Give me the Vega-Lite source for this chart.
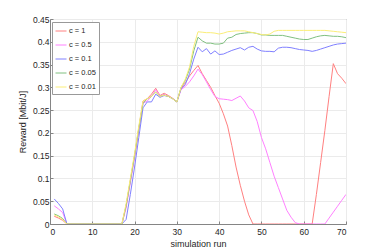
{
"$schema": "https://vega.github.io/schema/vega-lite/v6.json",
"width": 296, "height": 205,
"autosize": {"type": "none"},
"padding": {"left": 50, "top": 19, "right": 37, "bottom": 28},
"background": "white",
"config": {
  "font": "Liberation Sans",
  "view": {"stroke": "#858585", "strokeWidth": 1},
  "axis": {"labelFontSize": 8.5, "titleFontSize": 9, "titleFontWeight": "normal", "labelColor": "#262626", "titleColor": "#262626", "domainColor": "#858585", "tickColor": "#858585", "gridColor": "#ebebeb", "tickSize": -3, "labelPadding": 4}
},
"data": {"values": [
{"run":1,"c":"c = 1","r":0.017},{"run":2,"c":"c = 1","r":0.013},{"run":3,"c":"c = 1","r":0.008},{"run":4,"c":"c = 1","r":0},{"run":5,"c":"c = 1","r":0},{"run":6,"c":"c = 1","r":0},{"run":7,"c":"c = 1","r":0},{"run":8,"c":"c = 1","r":0},{"run":9,"c":"c = 1","r":0},{"run":10,"c":"c = 1","r":0},{"run":11,"c":"c = 1","r":0},{"run":12,"c":"c = 1","r":0},{"run":13,"c":"c = 1","r":0},{"run":14,"c":"c = 1","r":0},{"run":15,"c":"c = 1","r":0},{"run":16,"c":"c = 1","r":0},{"run":17,"c":"c = 1","r":0},
{"run":18,"c":"c = 1","r":0.04},{"run":19,"c":"c = 1","r":0.095},{"run":20,"c":"c = 1","r":0.15},{"run":21,"c":"c = 1","r":0.21},{"run":22,"c":"c = 1","r":0.27},{"run":23,"c":"c = 1","r":0.275},{"run":24,"c":"c = 1","r":0.285},{"run":25,"c":"c = 1","r":0.298},{"run":26,"c":"c = 1","r":0.282},{"run":27,"c":"c = 1","r":0.287},{"run":28,"c":"c = 1","r":0.282},{"run":29,"c":"c = 1","r":0.276},{"run":30,"c":"c = 1","r":0.268},{"run":31,"c":"c = 1","r":0.298},{"run":32,"c":"c = 1","r":0.31},{"run":33,"c":"c = 1","r":0.325},{"run":34,"c":"c = 1","r":0.337},{"run":35,"c":"c = 1","r":0.348},
{"run":36,"c":"c = 1","r":0.33},{"run":37,"c":"c = 1","r":0.315},{"run":38,"c":"c = 1","r":0.3},{"run":39,"c":"c = 1","r":0.282},{"run":40,"c":"c = 1","r":0.265},{"run":41,"c":"c = 1","r":0.242},{"run":42,"c":"c = 1","r":0.215},{"run":43,"c":"c = 1","r":0.172},{"run":44,"c":"c = 1","r":0.125},{"run":45,"c":"c = 1","r":0.085},{"run":46,"c":"c = 1","r":0.05},{"run":47,"c":"c = 1","r":0.02},
{"run":48,"c":"c = 1","r":0},{"run":49,"c":"c = 1","r":0},{"run":50,"c":"c = 1","r":0},{"run":51,"c":"c = 1","r":0},{"run":52,"c":"c = 1","r":0},{"run":53,"c":"c = 1","r":0},{"run":54,"c":"c = 1","r":0},{"run":55,"c":"c = 1","r":0},{"run":56,"c":"c = 1","r":0},{"run":57,"c":"c = 1","r":0},{"run":58,"c":"c = 1","r":0},{"run":59,"c":"c = 1","r":0},{"run":60,"c":"c = 1","r":0},{"run":61,"c":"c = 1","r":0},{"run":62,"c":"c = 1","r":0},
{"run":63,"c":"c = 1","r":0.065},{"run":64,"c":"c = 1","r":0.135},{"run":65,"c":"c = 1","r":0.205},{"run":66,"c":"c = 1","r":0.28},{"run":67,"c":"c = 1","r":0.352},{"run":68,"c":"c = 1","r":0.33},{"run":69,"c":"c = 1","r":0.32},{"run":70,"c":"c = 1","r":0.308},

{"run":1,"c":"c = 0.5","r":0.04},{"run":2,"c":"c = 0.5","r":0.033},{"run":3,"c":"c = 0.5","r":0.025},{"run":4,"c":"c = 0.5","r":0},{"run":5,"c":"c = 0.5","r":0},{"run":6,"c":"c = 0.5","r":0},{"run":7,"c":"c = 0.5","r":0},{"run":8,"c":"c = 0.5","r":0},{"run":9,"c":"c = 0.5","r":0},{"run":10,"c":"c = 0.5","r":0},{"run":11,"c":"c = 0.5","r":0},{"run":12,"c":"c = 0.5","r":0},{"run":13,"c":"c = 0.5","r":0},{"run":14,"c":"c = 0.5","r":0},{"run":15,"c":"c = 0.5","r":0},{"run":16,"c":"c = 0.5","r":0},{"run":17,"c":"c = 0.5","r":0},
{"run":18,"c":"c = 0.5","r":0.035},{"run":19,"c":"c = 0.5","r":0.09},{"run":20,"c":"c = 0.5","r":0.145},{"run":21,"c":"c = 0.5","r":0.205},{"run":22,"c":"c = 0.5","r":0.265},{"run":23,"c":"c = 0.5","r":0.27},{"run":24,"c":"c = 0.5","r":0.28},{"run":25,"c":"c = 0.5","r":0.295},{"run":26,"c":"c = 0.5","r":0.28},{"run":27,"c":"c = 0.5","r":0.285},{"run":28,"c":"c = 0.5","r":0.28},{"run":29,"c":"c = 0.5","r":0.275},{"run":30,"c":"c = 0.5","r":0.268},{"run":31,"c":"c = 0.5","r":0.295},{"run":32,"c":"c = 0.5","r":0.302},{"run":33,"c":"c = 0.5","r":0.312},{"run":34,"c":"c = 0.5","r":0.325},{"run":35,"c":"c = 0.5","r":0.34},
{"run":36,"c":"c = 0.5","r":0.328},{"run":37,"c":"c = 0.5","r":0.312},{"run":38,"c":"c = 0.5","r":0.295},{"run":39,"c":"c = 0.5","r":0.28},{"run":40,"c":"c = 0.5","r":0.275},{"run":41,"c":"c = 0.5","r":0.274},{"run":42,"c":"c = 0.5","r":0.273},{"run":43,"c":"c = 0.5","r":0.271},{"run":44,"c":"c = 0.5","r":0.276},{"run":45,"c":"c = 0.5","r":0.281},{"run":46,"c":"c = 0.5","r":0.27},{"run":47,"c":"c = 0.5","r":0.255},{"run":48,"c":"c = 0.5","r":0.249},{"run":49,"c":"c = 0.5","r":0.225},{"run":50,"c":"c = 0.5","r":0.19},{"run":51,"c":"c = 0.5","r":0.165},{"run":52,"c":"c = 0.5","r":0.135},{"run":53,"c":"c = 0.5","r":0.105},{"run":54,"c":"c = 0.5","r":0.08},{"run":55,"c":"c = 0.5","r":0.055},{"run":56,"c":"c = 0.5","r":0.03},{"run":57,"c":"c = 0.5","r":0.015},{"run":58,"c":"c = 0.5","r":0.003},
{"run":59,"c":"c = 0.5","r":0},{"run":60,"c":"c = 0.5","r":0},{"run":61,"c":"c = 0.5","r":0},{"run":62,"c":"c = 0.5","r":0},{"run":63,"c":"c = 0.5","r":0},{"run":64,"c":"c = 0.5","r":0},{"run":65,"c":"c = 0.5","r":0},
{"run":66,"c":"c = 0.5","r":0.013},{"run":67,"c":"c = 0.5","r":0.026},{"run":68,"c":"c = 0.5","r":0.039},{"run":69,"c":"c = 0.5","r":0.052},{"run":70,"c":"c = 0.5","r":0.065},

{"run":1,"c":"c = 0.1","r":0.055},{"run":2,"c":"c = 0.1","r":0.045},{"run":3,"c":"c = 0.1","r":0.033},{"run":4,"c":"c = 0.1","r":0},{"run":5,"c":"c = 0.1","r":0},{"run":6,"c":"c = 0.1","r":0},{"run":7,"c":"c = 0.1","r":0},{"run":8,"c":"c = 0.1","r":0},{"run":9,"c":"c = 0.1","r":0},{"run":10,"c":"c = 0.1","r":0},{"run":11,"c":"c = 0.1","r":0},{"run":12,"c":"c = 0.1","r":0},{"run":13,"c":"c = 0.1","r":0},{"run":14,"c":"c = 0.1","r":0},{"run":15,"c":"c = 0.1","r":0},{"run":16,"c":"c = 0.1","r":0},{"run":17,"c":"c = 0.1","r":0},
{"run":18,"c":"c = 0.1","r":0.01},{"run":19,"c":"c = 0.1","r":0.065},{"run":20,"c":"c = 0.1","r":0.125},{"run":21,"c":"c = 0.1","r":0.19},{"run":22,"c":"c = 0.1","r":0.255},{"run":23,"c":"c = 0.1","r":0.268},{"run":24,"c":"c = 0.1","r":0.268},{"run":25,"c":"c = 0.1","r":0.285},{"run":26,"c":"c = 0.1","r":0.278},{"run":27,"c":"c = 0.1","r":0.282},{"run":28,"c":"c = 0.1","r":0.28},{"run":29,"c":"c = 0.1","r":0.275},{"run":30,"c":"c = 0.1","r":0.268},{"run":31,"c":"c = 0.1","r":0.297},{"run":32,"c":"c = 0.1","r":0.306},{"run":33,"c":"c = 0.1","r":0.33},{"run":34,"c":"c = 0.1","r":0.362},{"run":35,"c":"c = 0.1","r":0.388},
{"run":36,"c":"c = 0.1","r":0.378},{"run":37,"c":"c = 0.1","r":0.385},{"run":38,"c":"c = 0.1","r":0.373},{"run":39,"c":"c = 0.1","r":0.38},{"run":40,"c":"c = 0.1","r":0.372},{"run":41,"c":"c = 0.1","r":0.373},{"run":42,"c":"c = 0.1","r":0.377},{"run":43,"c":"c = 0.1","r":0.381},{"run":44,"c":"c = 0.1","r":0.384},{"run":45,"c":"c = 0.1","r":0.387},{"run":46,"c":"c = 0.1","r":0.382},{"run":47,"c":"c = 0.1","r":0.388},{"run":48,"c":"c = 0.1","r":0.39},{"run":49,"c":"c = 0.1","r":0.384},{"run":50,"c":"c = 0.1","r":0.38},{"run":51,"c":"c = 0.1","r":0.379},{"run":52,"c":"c = 0.1","r":0.379},{"run":53,"c":"c = 0.1","r":0.378},{"run":54,"c":"c = 0.1","r":0.386},{"run":55,"c":"c = 0.1","r":0.388},{"run":56,"c":"c = 0.1","r":0.388},{"run":57,"c":"c = 0.1","r":0.387},{"run":58,"c":"c = 0.1","r":0.385},{"run":59,"c":"c = 0.1","r":0.383},{"run":60,"c":"c = 0.1","r":0.382},{"run":61,"c":"c = 0.1","r":0.381},{"run":62,"c":"c = 0.1","r":0.379},{"run":63,"c":"c = 0.1","r":0.381},{"run":64,"c":"c = 0.1","r":0.384},{"run":65,"c":"c = 0.1","r":0.387},{"run":66,"c":"c = 0.1","r":0.39},{"run":67,"c":"c = 0.1","r":0.393},{"run":68,"c":"c = 0.1","r":0.395},{"run":69,"c":"c = 0.1","r":0.396},{"run":70,"c":"c = 0.1","r":0.397},

{"run":1,"c":"c = 0.05","r":0.022},{"run":2,"c":"c = 0.05","r":0.018},{"run":3,"c":"c = 0.05","r":0.012},{"run":4,"c":"c = 0.05","r":0},{"run":5,"c":"c = 0.05","r":0},{"run":6,"c":"c = 0.05","r":0},{"run":7,"c":"c = 0.05","r":0},{"run":8,"c":"c = 0.05","r":0},{"run":9,"c":"c = 0.05","r":0},{"run":10,"c":"c = 0.05","r":0},{"run":11,"c":"c = 0.05","r":0},{"run":12,"c":"c = 0.05","r":0},{"run":13,"c":"c = 0.05","r":0},{"run":14,"c":"c = 0.05","r":0},{"run":15,"c":"c = 0.05","r":0},{"run":16,"c":"c = 0.05","r":0},{"run":17,"c":"c = 0.05","r":0},
{"run":18,"c":"c = 0.05","r":0.04},{"run":19,"c":"c = 0.05","r":0.095},{"run":20,"c":"c = 0.05","r":0.15},{"run":21,"c":"c = 0.05","r":0.21},{"run":22,"c":"c = 0.05","r":0.265},{"run":23,"c":"c = 0.05","r":0.275},{"run":24,"c":"c = 0.05","r":0.28},{"run":25,"c":"c = 0.05","r":0.29},{"run":26,"c":"c = 0.05","r":0.28},{"run":27,"c":"c = 0.05","r":0.283},{"run":28,"c":"c = 0.05","r":0.28},{"run":29,"c":"c = 0.05","r":0.275},{"run":30,"c":"c = 0.05","r":0.268},{"run":31,"c":"c = 0.05","r":0.3},{"run":32,"c":"c = 0.05","r":0.315},{"run":33,"c":"c = 0.05","r":0.34},{"run":34,"c":"c = 0.05","r":0.38},{"run":35,"c":"c = 0.05","r":0.41},
{"run":36,"c":"c = 0.05","r":0.402},{"run":37,"c":"c = 0.05","r":0.397},{"run":38,"c":"c = 0.05","r":0.397},{"run":39,"c":"c = 0.05","r":0.395},{"run":40,"c":"c = 0.05","r":0.395},{"run":41,"c":"c = 0.05","r":0.397},{"run":42,"c":"c = 0.05","r":0.408},{"run":43,"c":"c = 0.05","r":0.41},{"run":44,"c":"c = 0.05","r":0.416},{"run":45,"c":"c = 0.05","r":0.418},{"run":46,"c":"c = 0.05","r":0.419},{"run":47,"c":"c = 0.05","r":0.42},{"run":48,"c":"c = 0.05","r":0.42},{"run":49,"c":"c = 0.05","r":0.418},{"run":50,"c":"c = 0.05","r":0.415},{"run":51,"c":"c = 0.05","r":0.415},{"run":52,"c":"c = 0.05","r":0.414},{"run":53,"c":"c = 0.05","r":0.414},{"run":54,"c":"c = 0.05","r":0.414},{"run":55,"c":"c = 0.05","r":0.414},{"run":56,"c":"c = 0.05","r":0.412},{"run":57,"c":"c = 0.05","r":0.41},{"run":58,"c":"c = 0.05","r":0.408},{"run":59,"c":"c = 0.05","r":0.406},{"run":60,"c":"c = 0.05","r":0.405},{"run":61,"c":"c = 0.05","r":0.405},{"run":62,"c":"c = 0.05","r":0.408},{"run":63,"c":"c = 0.05","r":0.411},{"run":64,"c":"c = 0.05","r":0.413},{"run":65,"c":"c = 0.05","r":0.414},{"run":66,"c":"c = 0.05","r":0.413},{"run":67,"c":"c = 0.05","r":0.412},{"run":68,"c":"c = 0.05","r":0.412},{"run":69,"c":"c = 0.05","r":0.411},{"run":70,"c":"c = 0.05","r":0.409},

{"run":1,"c":"c = 0.01","r":0.02},{"run":2,"c":"c = 0.01","r":0.016},{"run":3,"c":"c = 0.01","r":0.01},{"run":4,"c":"c = 0.01","r":0},{"run":5,"c":"c = 0.01","r":0},{"run":6,"c":"c = 0.01","r":0},{"run":7,"c":"c = 0.01","r":0},{"run":8,"c":"c = 0.01","r":0},{"run":9,"c":"c = 0.01","r":0},{"run":10,"c":"c = 0.01","r":0},{"run":11,"c":"c = 0.01","r":0},{"run":12,"c":"c = 0.01","r":0},{"run":13,"c":"c = 0.01","r":0},{"run":14,"c":"c = 0.01","r":0},{"run":15,"c":"c = 0.01","r":0},{"run":16,"c":"c = 0.01","r":0},{"run":17,"c":"c = 0.01","r":0},
{"run":18,"c":"c = 0.01","r":0.045},{"run":19,"c":"c = 0.01","r":0.1},{"run":20,"c":"c = 0.01","r":0.155},{"run":21,"c":"c = 0.01","r":0.215},{"run":22,"c":"c = 0.01","r":0.27},{"run":23,"c":"c = 0.01","r":0.275},{"run":24,"c":"c = 0.01","r":0.28},{"run":25,"c":"c = 0.01","r":0.29},{"run":26,"c":"c = 0.01","r":0.28},{"run":27,"c":"c = 0.01","r":0.283},{"run":28,"c":"c = 0.01","r":0.28},{"run":29,"c":"c = 0.01","r":0.275},{"run":30,"c":"c = 0.01","r":0.268},{"run":31,"c":"c = 0.01","r":0.3},{"run":32,"c":"c = 0.01","r":0.318},{"run":33,"c":"c = 0.01","r":0.345},{"run":34,"c":"c = 0.01","r":0.39},{"run":35,"c":"c = 0.01","r":0.422},
{"run":36,"c":"c = 0.01","r":0.421},{"run":37,"c":"c = 0.01","r":0.42},{"run":38,"c":"c = 0.01","r":0.42},{"run":39,"c":"c = 0.01","r":0.419},{"run":40,"c":"c = 0.01","r":0.417},{"run":41,"c":"c = 0.01","r":0.419},{"run":42,"c":"c = 0.01","r":0.422},{"run":43,"c":"c = 0.01","r":0.423},{"run":44,"c":"c = 0.01","r":0.424},{"run":45,"c":"c = 0.01","r":0.424},{"run":46,"c":"c = 0.01","r":0.424},{"run":47,"c":"c = 0.01","r":0.422},{"run":48,"c":"c = 0.01","r":0.42},{"run":49,"c":"c = 0.01","r":0.418},{"run":50,"c":"c = 0.01","r":0.416},{"run":51,"c":"c = 0.01","r":0.415},{"run":52,"c":"c = 0.01","r":0.417},{"run":53,"c":"c = 0.01","r":0.423},{"run":54,"c":"c = 0.01","r":0.425},{"run":55,"c":"c = 0.01","r":0.425},{"run":56,"c":"c = 0.01","r":0.425},{"run":57,"c":"c = 0.01","r":0.425},{"run":58,"c":"c = 0.01","r":0.425},{"run":59,"c":"c = 0.01","r":0.425},{"run":60,"c":"c = 0.01","r":0.425},{"run":61,"c":"c = 0.01","r":0.425},{"run":62,"c":"c = 0.01","r":0.425},{"run":63,"c":"c = 0.01","r":0.425},{"run":64,"c":"c = 0.01","r":0.425},{"run":65,"c":"c = 0.01","r":0.425},{"run":66,"c":"c = 0.01","r":0.424},{"run":67,"c":"c = 0.01","r":0.423},{"run":68,"c":"c = 0.01","r":0.422},{"run":69,"c":"c = 0.01","r":0.421},{"run":70,"c":"c = 0.01","r":0.42}
]},
"mark": {"type": "line", "strokeWidth": 1, "clip": true},
"encoding": {
  "x": {"field": "run", "type": "quantitative", "scale": {"domain": [0, 70], "nice": false},
        "axis": {"values": [0,10,20,30,40,50,60,70], "title": "simulation run", "labelPadding": 6, "titlePadding": 4}},
  "y": {"field": "r", "type": "quantitative", "scale": {"domain": [0, 0.45], "nice": false},
        "axis": {"values": [0,0.05,0.1,0.15,0.2,0.25,0.3,0.35,0.4,0.45], "format": "~g", "title": "Reward [Mbit/J]", "titlePadding": 5}},
  "color": {"field": "c", "type": "nominal",
        "scale": {"domain": ["c = 1","c = 0.5","c = 0.1","c = 0.05","c = 0.01"], "range": ["#ff8080","#ff80ff","#8080ff","#80c080","#fbee78"]},
        "legend": {"title": null, "orient": "none", "legendX": 2, "legendY": 3, "padding": 3, "rowPadding": 4, "symbolType": "stroke", "symbolSize": 121, "symbolStrokeWidth": 1, "labelFontSize": 7.5, "labelColor": "#262626", "labelOffset": 2, "strokeColor": "#999999", "fillColor": "white", "cornerRadius": 0}}
}
}
